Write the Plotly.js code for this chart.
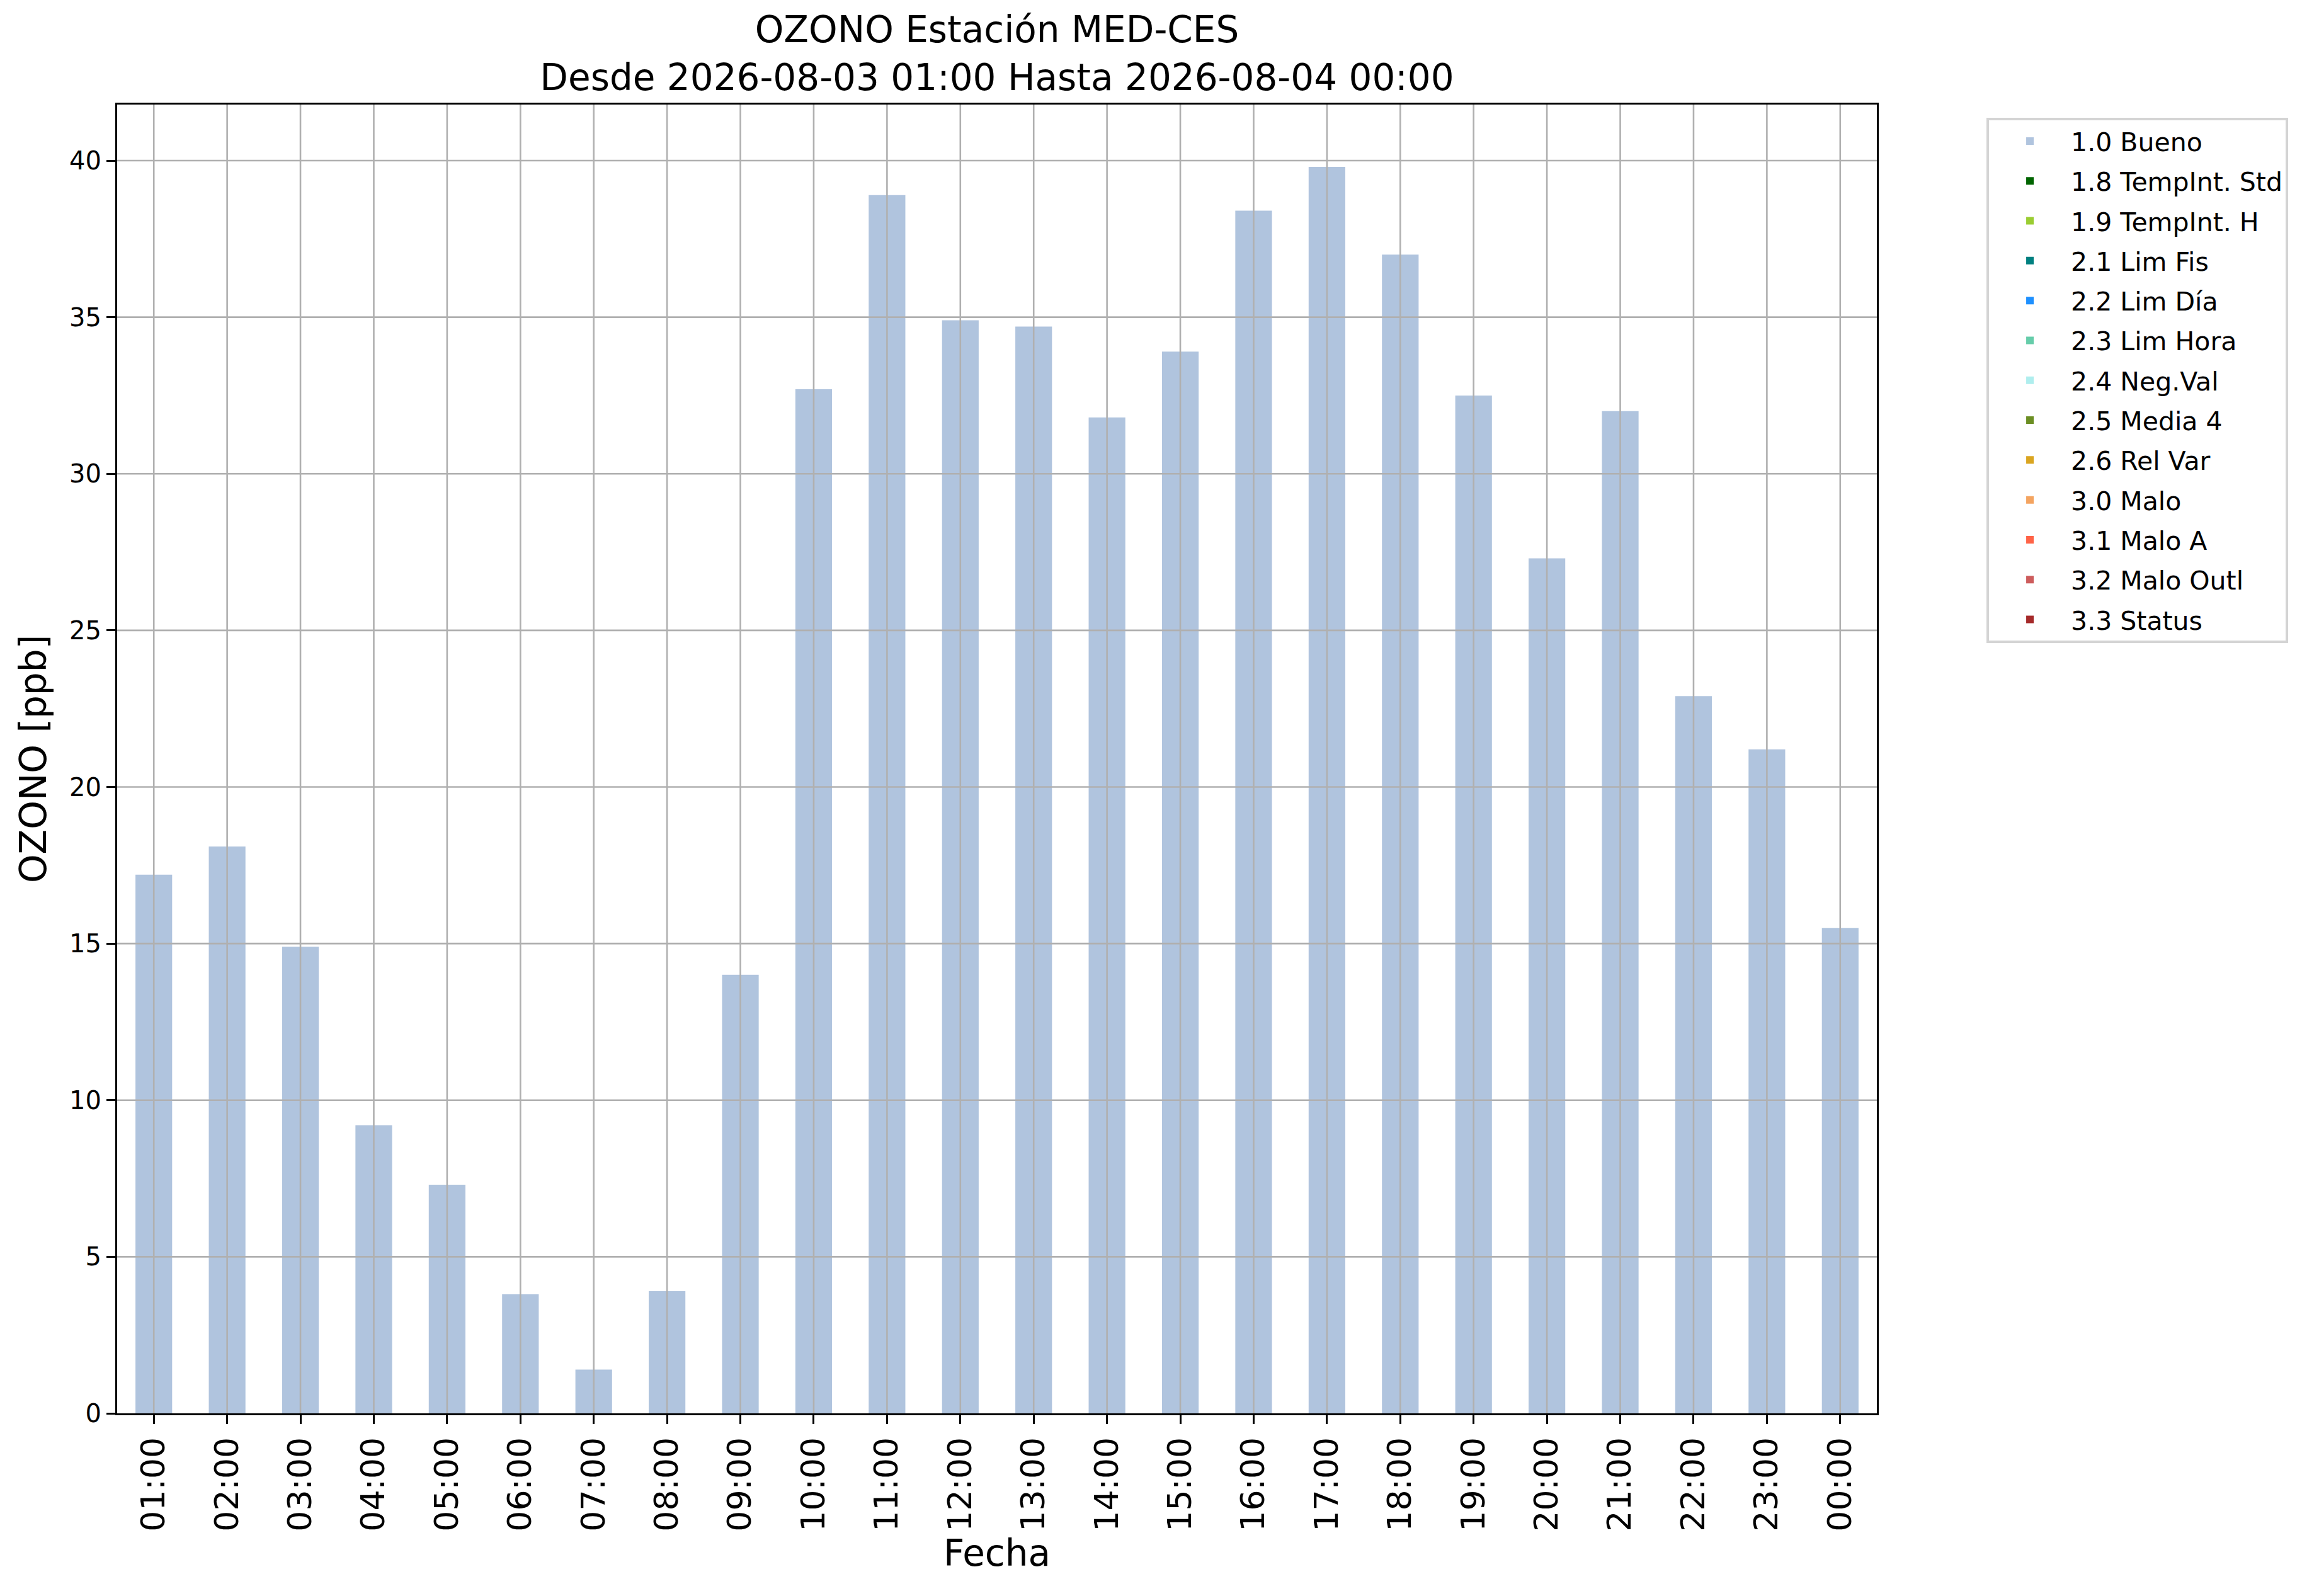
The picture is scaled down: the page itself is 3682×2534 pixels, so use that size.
<!DOCTYPE html>
<html>
<head>
<meta charset="utf-8">
<script src="https://cdn.plot.ly/plotly-3.0.1.min.js"></script>
<style>
  html, body { margin: 0; padding: 0; background: #fff; }
  #chart { width: 3682px; height: 2534px; }
</style>
</head>
<body>
<div id="chart"></div>
<script>
// hourly ozone, 2026-08-03 01:00 .. 2026-08-04 00:00
const hours = ['01:00','02:00','03:00','04:00','05:00','06:00','07:00','08:00','09:00','10:00','11:00','12:00',
               '13:00','14:00','15:00','16:00','17:00','18:00','19:00','20:00','21:00','22:00','23:00','00:00'];
const ozone = [17.2, 18.1, 14.9, 9.2, 7.3, 3.8, 1.4, 3.9, 14.0, 32.7, 38.9, 34.9,
               34.7, 31.8, 33.9, 38.4, 39.8, 37.0, 32.5, 27.3, 32.0, 22.9, 21.2, 15.5];
// quality flag of each hour
const hourFlag = ['1.0','1.0','1.0','1.0','1.0','1.0','1.0','1.0','1.0','1.0','1.0','1.0',
                  '1.0','1.0','1.0','1.0','1.0','1.0','1.0','1.0','1.0','1.0','1.0','1.0'];

const flagCodes = ['1.0','1.8','1.9','2.1','2.2','2.3','2.4','2.5','2.6','3.0','3.1','3.2','3.3'];
const flagNames = ['1.0 Bueno','1.8 TempInt. Std','1.9 TempInt. H','2.1 Lim Fis','2.2 Lim Día','2.3 Lim Hora',
                   '2.4 Neg.Val','2.5 Media 4','2.6 Rel Var','3.0 Malo','3.1 Malo A','3.2 Malo Outl','3.3 Status'];
const flagColors = ['#B0C4DE','#006400','#9ACD32','#008080','#1E90FF','#66CDAA',
                    '#AFEEEE','#6B8E23','#DAA520','#F4A460','#FF6347','#CD5C5C','#A52A2A'];

const yTicks = [0, 5, 10, 15, 20, 25, 30, 35, 40];

const FONT = 'DejaVu Sans, sans-serif';
const GRID = '#b0b0b0';

var traces = [];
for (let i = 0; i < flagCodes.length; ++i) {
    traces.push({
        type: 'bar',
        name: flagNames[i],
        x: hours,
        y: ozone.map((v, k) => hourFlag[k] === flagCodes[i] ? v : null),
        width: 0.5,
        marker: {color: flagColors[i], line: {width: 0}},
        legendgroup: 'g' + i,
        showlegend: true,
        hoverinfo: 'x+y+name'
    });
}

// matplotlib draws the grid over the bars, so do it with shapes on top
var shapes = [];
yTicks.slice(1).forEach(t => shapes.push({
    type: 'line', layer: 'above', xref: 'paper', yref: 'y',
    x0: 0, x1: 1, y0: t, y1: t, line: {color: GRID, width: 2.6}
}));
hours.forEach(h => shapes.push({
    type: 'line', layer: 'above', xref: 'x', yref: 'paper',
    x0: h, x1: h, y0: 0, y1: 1, line: {color: GRID, width: 2.6}
}));

var ymax = Math.max(...ozone) * 1.05;

var layout = {
    width: 3682,
    height: 2534,
    paper_bgcolor: '#fff',
    plot_bgcolor: '#fff',
    font: {family: FONT, color: '#000', size: 40},
    margin: {l: 186, r: 702, t: 166, b: 290, pad: 0},
    barmode: 'overlay',
    title: {
        text: 'OZONO Estación MED-CES<br>Desde 2026-08-03 01:00 Hasta 2026-08-04 00:00',
        font: {family: FONT, size: 58, color: '#000'},
        x: 0.5, xref: 'paper', xanchor: 'center',
        y: 0.9735, yref: 'container', yanchor: 'middle'
    },
    xaxis: {
        type: 'category',
        categoryorder: 'array',
        categoryarray: hours,
        range: [-0.5, hours.length - 0.5],
        tickangle: -90,
        tickfont: {family: FONT, size: 52},
        ticks: 'outside', ticklen: 14, tickwidth: 3, tickcolor: '#000',
        showline: true, linecolor: '#000', linewidth: 3, mirror: true,
        showgrid: false, zeroline: false,
        title: {text: 'Fecha', font: {family: FONT, size: 58}, standoff: 14}
    },
    yaxis: {
        range: [0, ymax],
        tickvals: yTicks,
        ticktext: yTicks.map(String),
        tickfont: {family: FONT, size: 40},
        ticks: 'outside', ticklen: 14, tickwidth: 3, tickcolor: '#000',
        showline: true, linecolor: '#000', linewidth: 3, mirror: true,
        showgrid: false, zeroline: false,
        title: {text: 'OZONO [ppb]', font: {family: FONT, size: 58}, standoff: 18}
    },
    shapes: shapes,
    legend: {
        x: 1.0623, xanchor: 'left',
        y: 0.99, yanchor: 'top',
        traceorder: 'grouped',
        tracegroupgap: 7,
        itemwidth: 120,
        font: {family: FONT, size: 41, color: '#000'},
        bgcolor: '#fff',
        bordercolor: '#d4d4d4',
        borderwidth: 4
    }
};

Plotly.newPlot('chart', traces, layout, {displayModeBar: false, staticPlot: true});
</script>
</body>
</html>
